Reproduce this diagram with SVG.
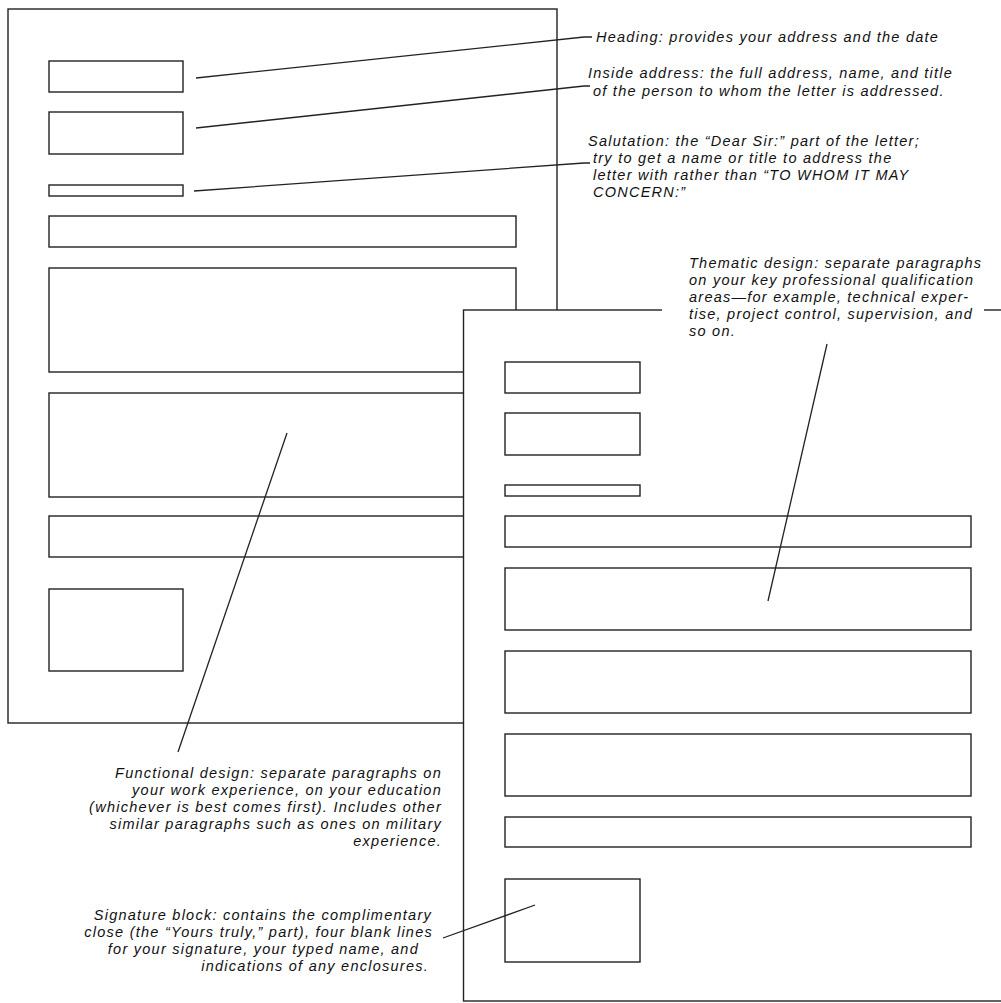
<svg xmlns="http://www.w3.org/2000/svg" width="1001" height="1003" viewBox="0 0 1001 1003">
  <style>
    .pg { fill: #fff; stroke: #222; stroke-width: 1.4; }
    .bx { fill: #fff; stroke: #222; stroke-width: 1.4; }
    .ld { fill: none; stroke: #222; stroke-width: 1.3; }
    .lbl { font-family: "Liberation Sans", Arial, sans-serif; font-style: italic; font-size: 14.5px; letter-spacing: 1.25px; fill: #111; }
    .end { text-anchor: end; }
  </style>
  <rect x="0" y="0" width="1001" height="1003" fill="#fff"/>

  <!-- Page 1 (functional design) -->
  <g id="page1">
    <rect class="pg" x="8" y="9" width="549" height="714"/>
    <g id="p1-heading"><rect class="bx" x="49" y="61" width="134" height="31"/></g>
    <g id="p1-inside"><rect class="bx" x="49" y="112" width="134" height="42"/></g>
    <g id="p1-salutation"><rect class="bx" x="49" y="185" width="134" height="11"/></g>
    <g id="p1-para1"><rect class="bx" x="49" y="216" width="467" height="31"/></g>
    <g id="p1-para2"><rect class="bx" x="49" y="268" width="467" height="104"/></g>
    <g id="p1-para3"><rect class="bx" x="49" y="393" width="467" height="104"/></g>
    <g id="p1-para4"><rect class="bx" x="49" y="516" width="467" height="41"/></g>
    <g id="p1-signature"><rect class="bx" x="49" y="589" width="134" height="82"/></g>
  </g>

  <!-- Page 2 (thematic design) -->
  <g id="page2">
    <rect class="pg" x="463.5" y="310" width="560" height="691"/>
    <g id="p2-heading"><rect class="bx" x="505" y="362" width="135" height="31"/></g>
    <g id="p2-inside"><rect class="bx" x="505" y="413" width="135" height="42"/></g>
    <g id="p2-salutation"><rect class="bx" x="505" y="485" width="135" height="11"/></g>
    <g id="p2-para1"><rect class="bx" x="505" y="516" width="466" height="31"/></g>
    <g id="p2-para2"><rect class="bx" x="505" y="568" width="466" height="62"/></g>
    <g id="p2-para3"><rect class="bx" x="505" y="651" width="466" height="62"/></g>
    <g id="p2-para4"><rect class="bx" x="505" y="734" width="466" height="62"/></g>
    <g id="p2-para5"><rect class="bx" x="505" y="817" width="466" height="30"/></g>
    <g id="p2-signature"><rect class="bx" x="505" y="879" width="135" height="83"/></g>
  </g>

  <!-- Connectors (leader lines) -->
  <g id="connectors">
    <polyline class="ld" points="196,78 584,37 592,37"/>
    <polyline class="ld" points="196,128 584,86 590,86"/>
    <polyline class="ld" points="194,191 584,163 590,163"/>
    <line class="ld" x1="827" y1="344" x2="768" y2="601"/>
    <line class="ld" x1="287" y1="433" x2="178" y2="752"/>
    <line class="ld" x1="443" y1="938" x2="535" y2="905"/>
  </g>

  <!-- Labels -->
  <g id="label-heading">
    <text class="lbl" x="596" y="42">Heading: provides your address and the date</text>
  </g>
  <g id="label-inside">
    <text class="lbl" x="588" y="78">Inside address: the full address, name, and title</text>
    <text class="lbl" x="593" y="96">of the person to whom the letter is addressed.</text>
  </g>
  <g id="label-salutation">
    <text class="lbl" x="588" y="146">Salutation: the “Dear Sir:” part of the letter;</text>
    <text class="lbl" x="593" y="163">try to get a name or title to address the</text>
    <text class="lbl" x="593" y="180">letter with rather than “TO WHOM IT MAY</text>
    <text class="lbl" x="593" y="197">CONCERN:”</text>
  </g>
  <g id="label-thematic">
    <rect x="662" y="250" width="322" height="90" fill="#fff"/>
    <text class="lbl" x="689" y="268">Thematic design: separate paragraphs</text>
    <text class="lbl" x="689" y="285">on your key professional qualification</text>
    <text class="lbl" x="689" y="302">areas—for example, technical exper-</text>
    <text class="lbl" x="689" y="319">tise, project control, supervision, and</text>
    <text class="lbl" x="689" y="336">so on.</text>
  </g>
  <g id="label-functional">
    <text class="lbl end" x="442" y="778">Functional design: separate paragraphs on</text>
    <text class="lbl end" x="442" y="795">your work experience, on your education</text>
    <text class="lbl end" x="442" y="812">(whichever is best comes first). Includes other</text>
    <text class="lbl end" x="442" y="829">similar paragraphs such as ones on military</text>
    <text class="lbl end" x="442" y="846">experience.</text>
  </g>
  <g id="label-signature">
    <text class="lbl end" x="432" y="920">Signature block: contains the complimentary</text>
    <text class="lbl end" x="433" y="937">close (the “Yours truly,” part), four blank lines</text>
    <text class="lbl end" x="419" y="954">for your signature, your typed name, and</text>
    <text class="lbl end" x="429" y="971">indications of any enclosures.</text>
  </g>
</svg>
